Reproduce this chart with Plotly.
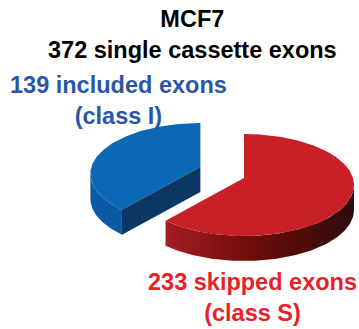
import numpy as np
import plotly.graph_objects as go

# Exon counts per class
classes = ["included exons (class I)", "skipped exons (class S)"]
counts = [139, 233]
title_lines = ["MCF7", "372 single cassette exons"]

# Drawing geometry (pixel-like canvas)
W, H = 359, 329
CX, CY = 244, 185          # centre of the pie-top ellipse
RA, RB = 110, 51           # ellipse semi-axes
APEX_LIFT = 7              # slice apex sits a little above the ellipse centre
DEPTH = 25                 # pie thickness
EXPLODE_X, EXPLODE_Y = 0.43, 0.56   # pull-out of the included slice

top_col = {"I": "#0b68b5", "S": "#c91f27"}
rim_col_I = "#0a5ba2"
cut_col_I = "#0c3763"
red_side_scale = [[0, "#a51c22"], [0.5, "#6a0c08"], [1, "#2e0c0c"]]

total = sum(counts)
# angles in degrees, counter-clockwise from +x; start at top
frac_I = counts[0] / total
start = 90.0
end_I = start + 360 * frac_I           # included slice: 90 -> end_I (CCW)
# skipped slice: end_I -> 450 (CCW)


def pt(cx, cy, th, dz=0.0):
    t = np.radians(th)
    return cx + RA * np.cos(t), cy - RB * np.sin(t) + dz


def arc(cx, cy, a0, a1, dz=0.0, n=120):
    th = np.linspace(a0, a1, n)
    x, y = pt(cx, cy, th, dz)
    return list(x), list(y)


fig = go.Figure()


def poly(x, y, color=None, grad=None):
    kw = dict(x=x + [x[0]], y=y + [y[0]], mode="lines", fill="toself",
              line=dict(width=0), hoverinfo="skip", showlegend=False)
    if grad is not None:
        kw["fillgradient"] = dict(type="horizontal", colorscale=grad)
    else:
        kw["fillcolor"] = color
    fig.add_trace(go.Scatter(**kw))


# ---- included slice (exploded toward its mid-angle) ----
mid_I = (start + end_I) / 2
bx = CX + EXPLODE_X * RA * np.cos(np.radians(mid_I))
by = CY - EXPLODE_Y * RB * np.sin(np.radians(mid_I))
ay = by - APEX_LIFT

# outer rim side (front-facing part, angles 180..end_I)
if end_I > 180:
    xs, ys = arc(bx, by, 180, end_I)
    xb, yb = arc(bx, by, end_I, 180, DEPTH)
    poly(xs + xb, ys + yb, rim_col_I)
# top face
xt, yt = arc(bx, by, start, end_I)
poly([bx] + xt, [ay] + yt, top_col["I"])
# visible cut face at end_I
ex, ey = pt(bx, by, end_I)
poly([bx, ex, ex, bx], [ay, ey, ey + DEPTH, ay + DEPTH], cut_col_I)

# ---- skipped slice ----
a0 = end_I
a1 = 360 + start
# outer rim side (front part: 180..360)
s0, s1 = max(a0, 180), min(a1, 360)
xs, ys = arc(CX, CY, s0, s1)
xb, yb = arc(CX, CY, s1, s0, DEPTH)
poly(xs + xb, ys + yb, grad=red_side_scale)
# top face
xt, yt = arc(CX, CY, a0, a1, n=240)
poly([CX] + xt, [CY - APEX_LIFT] + yt, top_col["S"])

font = dict(family="Liberation Sans, Arial, sans-serif", size=23.5)
anns = [
    dict(x=192, y=34, text="<br>".join(f"<b>{s}</b>" for s in title_lines),
         font=dict(color="#000000", **font)),
    dict(x=118, y=100,
         text=f"<b>{counts[0]} included exons</b><br><b>(class I)</b>",
         font=dict(color="#2b56a5", **font)),
    dict(x=252, y=297,
         text=f"<b>{counts[1]} skipped exons</b><br><b>(class S)</b>",
         font=dict(color="#e8202a", **font)),
]
for a in anns:
    a.update(xref="x", yref="y", showarrow=False, xanchor="center",
             yanchor="middle", align="center")

fig.update_layout(
    width=W, height=H, margin=dict(l=0, r=0, t=0, b=0),
    paper_bgcolor="white", plot_bgcolor="white",
    xaxis=dict(range=[0, W], visible=False, fixedrange=True),
    yaxis=dict(range=[H, 0], visible=False, fixedrange=True),
    annotations=anns,
)
fig.write_html("out.html")
